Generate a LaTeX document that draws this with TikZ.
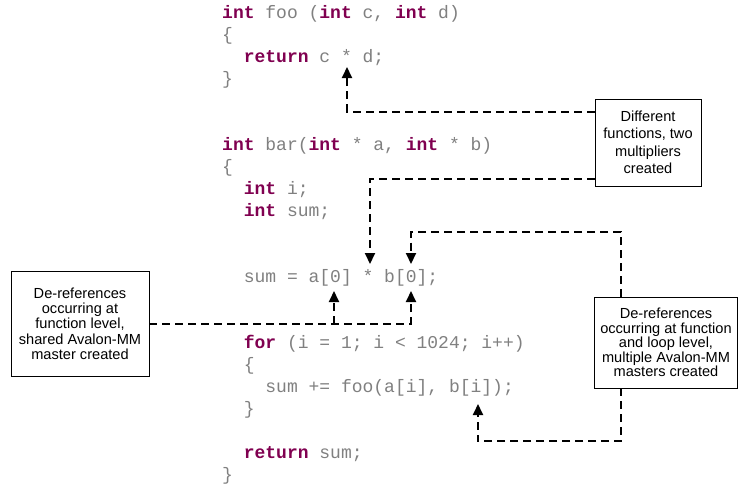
\documentclass[tikz,border=0pt]{standalone}
\usepackage{fontspec}
\setmainfont{Liberation Sans}
\newfontfamily\codefont{Liberation Mono}
\usetikzlibrary{arrows.meta,calc}
\definecolor{codegray}{RGB}{128,128,128}
\definecolor{kw}{RGB}{128,0,80}
\newcommand{\kwd}[1]{\textcolor{kw}{\bfseries #1}}
\begin{document}
\begin{tikzpicture}[x=1pt,y=-1pt,
  code/.style={anchor=base west,inner sep=0pt,font=\codefont\fontsize{18}{22}\selectfont,text=codegray},
  note/.style={draw=black,line width=0.8pt,align=center,inner sep=2pt},
  conn/.style={line width=2pt,dash pattern=on 8pt off 5pt,-{Triangle[width=10pt,length=11pt]}}]
\useasboundingbox (0,0) rectangle (742,483);
% code
\node[code] (l0) at (222,18) {\kwd{int} foo (\kwd{int} c, \kwd{int} d)};
\node[code] (l1) at (222,40) {\{};
\node[code] (l2) at (243.6,62) {\kwd{return} c * d;};
\node[code] (l3) at (222,84) {\}};
\node[code] (l6) at (222,150) {\kwd{int} bar(\kwd{int} * a, \kwd{int} * b)};
\node[code] (l7) at (222,172) {\{};
\node[code] (l8) at (243.6,194) {\kwd{int} i;};
\node[code] (l9) at (243.6,216) {\kwd{int} sum;};
\node[code] (l12) at (243.6,282) {sum = a[0] * b[0];};
\node[code] (l15) at (243.6,348) {\kwd{for} (i = 1; i < 1024; i++)};
\node[code] (l16) at (243.6,370) {\{};
\node[code] (l17) at (265.2,392) {sum += foo(a[i], b[i]);};
\node[code] (l18) at (243.6,414) {\}};
\node[code] (l20) at (243.6,458) {\kwd{return} sum;};
\node[code] (l21) at (222,480) {\}};
% notes
\node[note,minimum width=106pt,minimum height=87pt,font=\fontsize{14.6}{17.5}\selectfont] (box1) at (648,142.5)
  {Different\\functions, two\\multipliers\\created};
\node[note,minimum width=138pt,minimum height=105pt,font=\fontsize{14.6}{15.3}\selectfont] (box2) at (80,323.5)
  {De-references\\occurring at\\function level,\\shared Avalon-MM\\master created};
\node[note,minimum width=143pt,minimum height=91pt,font=\fontsize{14.6}{14.6}\selectfont] (box3) at (666,342.5)
  {De-references\\occurring at function\\and loop level,\\multiple Avalon-MM\\masters created};
% arrow tips
\coordinate (tA) at (347,67);
\coordinate (tB) at (370,264);
\coordinate (tC) at (411,264);
\coordinate (tD) at (411,291);
\coordinate (tE) at (334,291);
\coordinate (tF) at (478,404);
% connectors
\draw[conn] ($(box1.north west)+(0,13)$) -| (tA);
\draw[conn] ($(box1.north west)+(0,80)$) -| (tB);
\draw[conn] ($(box3.north west)+(27,0)$) -- ++(0,-65) -| (tC);
\draw[conn] (box2.east) -| (tD);
\draw[conn] (box2.east -| tE) -- (tE);
\draw[conn] ($(box3.south west)+(27,0)$) -- ++(0,53) -| (tF);
\end{tikzpicture}
\end{document}
